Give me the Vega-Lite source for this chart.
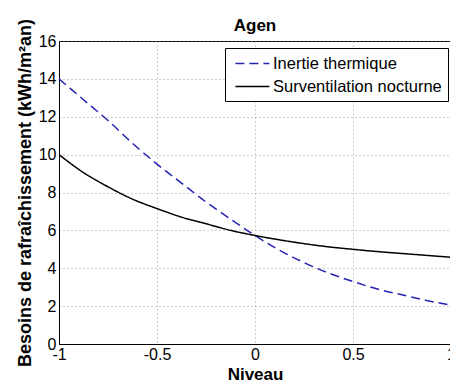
{
  "$schema": "https://vega.github.io/schema/vega-lite/v6.json",
  "width": 392,
  "height": 303,
  "autosize": {"type": "none"},
  "padding": {"left": 59, "top": 41, "right": 0, "bottom": 38},
  "background": "white",
  "title": {"text": "Agen", "font": "Liberation Sans", "fontSize": 17, "fontWeight": "bold", "color": "black", "offset": -17, "anchor": "middle"},
  "config": {
    "font": "Liberation Sans",
    "view": {"stroke": "black", "strokeWidth": 1},
    "axis": {
      "domainColor": "black",
      "tickColor": "black",
      "labelColor": "black",
      "titleColor": "black",
      "labelFont": "Liberation Sans",
      "titleFont": "Liberation Sans",
      "labelFontSize": 16,
      "titleFontSize": 17,
      "titleFontWeight": "bold",
      "gridColor": "#888888",
      "gridDash": [1, 3],
      "gridWidth": 1,
      "gridOpacity": 0.8,
      "tickSize": 0,
      "labelFlush": false,
      "labelOverlap": false
    }
  },
  "data": {
    "values": [
      {"niveau": -1, "besoin": 14.0, "serie": "Inertie thermique"},
      {"niveau": -0.875, "besoin": 12.9, "serie": "Inertie thermique"},
      {"niveau": -0.75, "besoin": 11.8, "serie": "Inertie thermique"},
      {"niveau": -0.625, "besoin": 10.6, "serie": "Inertie thermique"},
      {"niveau": -0.5, "besoin": 9.5, "serie": "Inertie thermique"},
      {"niveau": -0.375, "besoin": 8.5, "serie": "Inertie thermique"},
      {"niveau": -0.25, "besoin": 7.5, "serie": "Inertie thermique"},
      {"niveau": -0.125, "besoin": 6.6, "serie": "Inertie thermique"},
      {"niveau": 0, "besoin": 5.73, "serie": "Inertie thermique"},
      {"niveau": 0.125, "besoin": 4.95, "serie": "Inertie thermique"},
      {"niveau": 0.25, "besoin": 4.3, "serie": "Inertie thermique"},
      {"niveau": 0.375, "besoin": 3.75, "serie": "Inertie thermique"},
      {"niveau": 0.5, "besoin": 3.3, "serie": "Inertie thermique"},
      {"niveau": 0.625, "besoin": 2.9, "serie": "Inertie thermique"},
      {"niveau": 0.75, "besoin": 2.6, "serie": "Inertie thermique"},
      {"niveau": 0.875, "besoin": 2.3, "serie": "Inertie thermique"},
      {"niveau": 1, "besoin": 2.05, "serie": "Inertie thermique"},
      {"niveau": -1, "besoin": 10.0, "serie": "Surventilation nocturne"},
      {"niveau": -0.875, "besoin": 9.05, "serie": "Surventilation nocturne"},
      {"niveau": -0.75, "besoin": 8.3, "serie": "Surventilation nocturne"},
      {"niveau": -0.625, "besoin": 7.65, "serie": "Surventilation nocturne"},
      {"niveau": -0.5, "besoin": 7.15, "serie": "Surventilation nocturne"},
      {"niveau": -0.375, "besoin": 6.7, "serie": "Surventilation nocturne"},
      {"niveau": -0.25, "besoin": 6.35, "serie": "Surventilation nocturne"},
      {"niveau": -0.125, "besoin": 6.0, "serie": "Surventilation nocturne"},
      {"niveau": 0, "besoin": 5.73, "serie": "Surventilation nocturne"},
      {"niveau": 0.125, "besoin": 5.5, "serie": "Surventilation nocturne"},
      {"niveau": 0.25, "besoin": 5.3, "serie": "Surventilation nocturne"},
      {"niveau": 0.375, "besoin": 5.13, "serie": "Surventilation nocturne"},
      {"niveau": 0.5, "besoin": 5.0, "serie": "Surventilation nocturne"},
      {"niveau": 0.625, "besoin": 4.88, "serie": "Surventilation nocturne"},
      {"niveau": 0.75, "besoin": 4.78, "serie": "Surventilation nocturne"},
      {"niveau": 0.875, "besoin": 4.68, "serie": "Surventilation nocturne"},
      {"niveau": 1, "besoin": 4.58, "serie": "Surventilation nocturne"}
    ]
  },
  "mark": {"type": "line", "interpolate": "monotone", "strokeWidth": 1.5},
  "encoding": {
    "x": {
      "field": "niveau", "type": "quantitative",
      "scale": {"domain": [-1, 1], "nice": false, "zero": false},
      "axis": {"values": [-1, -0.5, 0, 0.5, 1], "labelExpr": "datum.value < 0 ? '-' + format(-datum.value, '~g') : format(datum.value, '~g')", "title": "Niveau", "labelPadding": 2, "titlePadding": 4}
    },
    "y": {
      "field": "besoin", "type": "quantitative",
      "scale": {"domain": [0, 16], "nice": false},
      "axis": {"values": [0, 2, 4, 6, 8, 10, 12, 14, 16], "title": "Besoins de rafraîchissement (kWh/m²an)", "titleFontSize": 18, "labelPadding": 3, "titlePadding": 4}
    },
    "color": {
      "field": "serie", "type": "nominal",
      "scale": {"domain": ["Inertie thermique", "Surventilation nocturne"], "range": ["#2323b4", "#000000"]},
      "legend": {
        "title": null,
        "orient": "none",
        "legendX": 166,
        "legendY": 7,
        "fillColor": "white",
        "strokeColor": "black",
        "padding": 6,
        "symbolType": "M-0.6,0H3.4",
        "symbolSize": 289,
        "symbolStrokeWidth": 1.5,
        "labelFontSize": 16.5,
        "labelFont": "Liberation Sans",
        "labelColor": "black",
        "labelOffset": 23,
        "rowPadding": 5,
        "labelLimit": 300
      }
    },
    "strokeDash": {
      "field": "serie", "type": "nominal",
      "scale": {"domain": ["Inertie thermique", "Surventilation nocturne"], "range": [[9, 5], [1, 0]]},
      "legend": null
    }
  }
}
